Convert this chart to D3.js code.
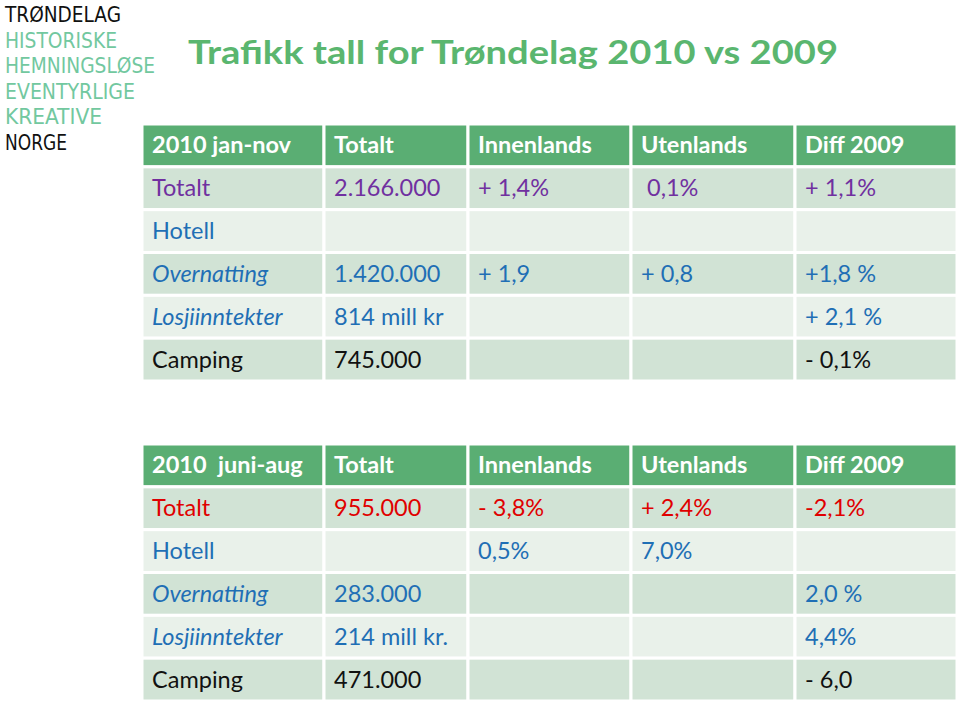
<!DOCTYPE html>
<html><head><meta charset="utf-8">
<script src="https://cdn.jsdelivr.net/npm/d3@7/dist/d3.min.js"></script>
<style>body{margin:0;background:#fff}svg{display:block}</style>
</head><body>
<script>
const title = "Trafikk tall for Trøndelag 2010 vs 2009";
const logoLines = ["TRØNDELAG","HISTORISKE","HEMNINGSLØSE","EVENTYRLIGE","KREATIVE","NORGE"];
const columns = ["Totalt","Innenlands","Utenlands","Diff 2009"];
const periods = ["2010 jan-nov","2010  juni-aug"];
const categories = ["Totalt","Hotell","Overnatting","Losjiinntekter","Camping"];
const janNovValues = [
  ["2.166.000","+ 1,4%"," 0,1%","+ 1,1%"],
  ["","","",""],
  ["1.420.000","+ 1,9","+ 0,8","+1,8 %"],
  ["814 mill kr","","","+ 2,1 %"],
  ["745.000","","","- 0,1%"]
];
const juniAugValues = [
  ["955.000","- 3,8%","+ 2,4%","-2,1%"],
  ["","0,5%","7,0%",""],
  ["283.000","","","2,0 %"],
  ["214 mill kr.","","","4,4%"],
  ["471.000","","","- 6,0"]
];

const W=960,H=703;
const svg=d3.select("body").append("svg").attr("width",W).attr("height",H);
const FONT="Lato, 'Open Sans', sans-serif";

// logo
const logoY=d3.scalePoint().domain(logoLines).range([22,150]);
svg.append("g").selectAll("text").data(logoLines).join("text")
  .attr("x",5).attr("y",d=>logoY(d))
  .attr("font-family","'DejaVu Sans Condensed', 'DejaVu Sans', sans-serif")
  .attr("font-size",21).attr("font-weight",300)
  .attr("textLength",(d,i)=>[116,112,150,130,97,62][i]).attr("lengthAdjust","spacingAndGlyphs")
  .attr("fill",(d,i)=>(i===0||i===5)?"#111":"#72c89f")
  .text(d=>d);

// title
svg.append("text").attr("x",188).attr("y",64)
  .attr("font-family",FONT).attr("font-weight",700).attr("font-size",33)
  .attr("fill","#5ab66f").attr("textLength",650).attr("lengthAdjust","spacingAndGlyphs")
  .text(title);

// column layout (relative widths)
const colW=[182,144,163,164,162];
const cum=[0]; colW.forEach(w=>cum.push(cum[cum.length-1]+w));
const x=d3.scaleLinear().domain([0,cum[cum.length-1]]).range([142,957]);

const colorSets=[
  ["#7030a0","#1f6fb5","#1f6fb5","#1f6fb5","#111"],
  ["#e00000","#1f6fb5","#1f6fb5","#1f6fb5","#111"]
];

function drawTable(top,period,values,colors){
  const rows=["header",...categories];
  const y=d3.scaleBand().domain(rows.map((r,i)=>i)).range([top,top+257]).paddingInner(0);
  const g=svg.append("g");
  rows.forEach((r,ri)=>{
    const cells=[ri===0?period:r].concat(ri===0?columns:values[ri-1]);
    cells.forEach((c,ci)=>{
      const x0=x(cum[ci]),x1=x(cum[ci+1]);
      const fill = ri===0?"#5aae73":(ri%2===1?"#d1e3d5":"#e9f1ea");
      g.append("rect").attr("x",x0).attr("y",y(ri)).attr("width",x1-x0).attr("height",y.bandwidth())
        .attr("fill",fill).attr("stroke","#fff").attr("stroke-width",3);
      if(c!==""){
        const italic = ri>0 && ci===0 && (r==="Overnatting"||r==="Losjiinntekter");
        g.append("text").attr("x",x0+10).attr("y",y(ri)+y.bandwidth()/2+8)
          .attr("font-family",FONT).attr("font-size",23.5)
          .attr("font-weight",ri===0?700:400)
          .attr("font-style",italic?"italic":"normal")
          .attr("fill",ri===0?"#fff":colors[ri-1])
          .attr("xml:space","preserve").style("white-space","pre")
          .text(c);
      }
    });
  });
}
drawTable(124,periods[0],janNovValues,colorSets[0]);
drawTable(444,periods[1],juniAugValues,colorSets[1]);
</script>
</body></html>
